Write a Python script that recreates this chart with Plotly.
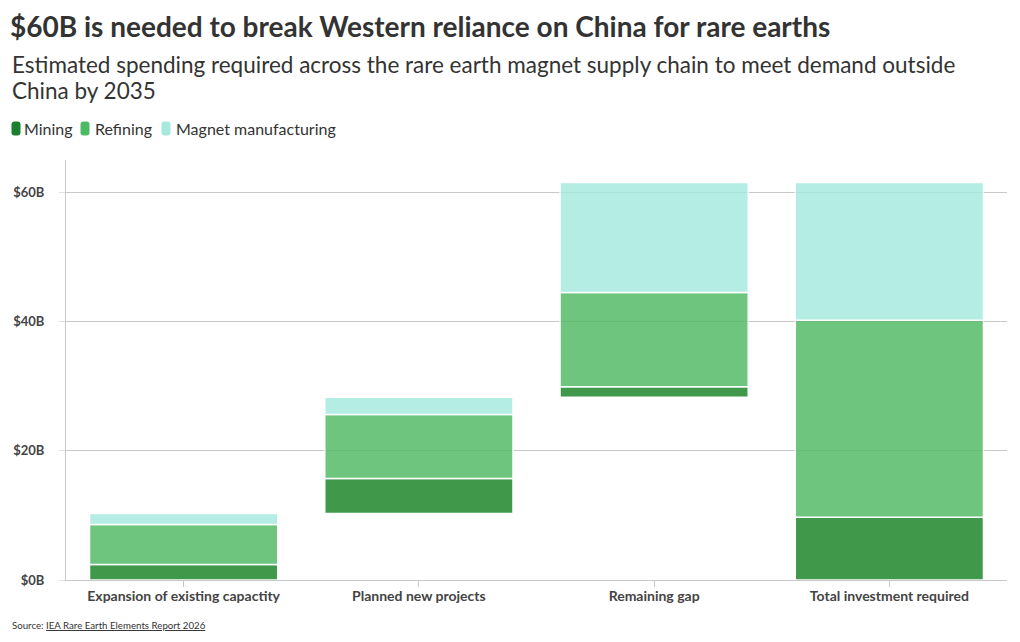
import plotly.graph_objects as go

# ---- data (US$ billions) ----
categories = ["Expansion of existing capactity", "Planned new projects",
              "Remaining gap", "Total investment required"]
series_names = ["Mining", "Refining", "Magnet manufacturing"]
# stage contributions (first three categories)
mining_stage = [2.4, 5.4, 1.6]
refining_stage = [6.2, 9.9, 14.6]
magnet_stage = [1.7, 2.7, 17.0]
# total bar
mining_total = 9.7
refining_total = 30.5
magnet_total = 21.3
y_ticks = [0, 20, 40, 60]
y_tick_labels = ["$0B", "$20B", "$40B", "$60B"]

legend_colors = ["#1a7f2e", "#4cba64", "#a6e9df"]
bar_colors = ["#1f882c", "#55bb68", "#a6eadf"]

FONT = "Lato"
W, H = 1020, 642
L, R, T, B = 66, 13, 160, 62
PW, PH = W - L - R, H - T - B


def px(p):
    return (p - L) / PW


def py(p):
    return (H - B - p) / PH


# build values and bases
mining = mining_stage + [mining_total]
refining = refining_stage + [refining_total]
magnet = magnet_stage + [magnet_total]
starts = []
acc = 0.0
for i in range(3):
    starts.append(acc)
    acc += mining_stage[i] + refining_stage[i] + magnet_stage[i]
starts.append(0.0)

base_m = starts
base_r = [s + m for s, m in zip(starts, mining)]
base_g = [s + m + r for s, m, r in zip(starts, mining, refining)]

fig = go.Figure()
for name, vals, base, col in zip(series_names, [mining, refining, magnet],
                                 [base_m, base_r, base_g], bar_colors):
    fig.add_trace(go.Bar(
        x=categories, y=vals, base=base, name=name,
        marker=dict(color=col, line=dict(color="white", width=1.5)),
        opacity=0.85, showlegend=False,
    ))

# custom legend
shapes = []
annotations = []
leg_swatch_x = [16, 85, 166]
leg_text_x = [22, 93, 174]
leg_y = 128.5
r = 3
hw, hh = 4.5, 7
path = (f"M {-hw + r},{-hh} L {hw - r},{-hh} Q {hw},{-hh} {hw},{-hh + r} "
        f"L {hw},{hh - r} Q {hw},{hh} {hw - r},{hh} L {-hw + r},{hh} "
        f"Q {-hw},{hh} {-hw},{hh - r} L {-hw},{-hh + r} Q {-hw},{-hh} {-hw + r},{-hh} Z")
for name, col, sx, tx in zip(series_names, legend_colors, leg_swatch_x, leg_text_x):
    shapes.append(dict(type="path", xref="paper", yref="paper",
                       xsizemode="pixel", ysizemode="pixel",
                       xanchor=px(sx), yanchor=py(leg_y), path=path,
                       fillcolor=col, line=dict(width=0)))
    annotations.append(dict(text=name, xref="paper", yref="paper",
                            x=px(tx), y=py(leg_y - 0.5), xanchor="left", yanchor="middle",
                            showarrow=False, font=dict(family=FONT, size=16, color="#333")))

# subtitle (two lines)
sub_lines = ["Estimated spending required across the rare earth magnet supply chain to meet demand outside",
             "China by 2035"]
for line, yy in zip(sub_lines, [65, 91]):
    annotations.append(dict(
        text=line, xref="paper", yref="paper", x=px(10), y=py(yy),
        xanchor="left", yanchor="middle", align="left", showarrow=False,
        font=dict(family=FONT, size=22.5, color="#333")))
# source
annotations.append(dict(
    text='Source: <span style="text-decoration:underline">IEA Rare Earth Elements Report 2026</span>',
    xref="paper", yref="paper", x=px(10), y=py(625), xanchor="left", yanchor="middle",
    showarrow=False, font=dict(family=FONT, size=9.7, color="#333")))

fig.update_layout(
    width=W, height=H,
    margin=dict(l=L, r=R, t=T, b=B),
    paper_bgcolor="white", plot_bgcolor="white",
    barmode="overlay", bargap=0.2,
    title=dict(text="<b>$60B is needed to break Western reliance on China for rare earths</b>",
               x=10 / W, xanchor="left", y=1 - 27 / H, yanchor="middle",
               font=dict(family=FONT, size=28, color="#333")),
    shapes=shapes, annotations=annotations,
    xaxis=dict(showline=True, linecolor="#c8c8c8", linewidth=1,
               ticks="outside", ticklen=6, tickcolor="#c8c8c8",
               ticklabelstandoff=-3,
               tickfont=dict(family=FONT, size=14, color="#444", weight="bold"),
               showgrid=False, fixedrange=True),
    yaxis=dict(range=[0, 65], tickvals=y_ticks, ticktext=y_tick_labels,
               showline=True, linecolor="#c8c8c8", linewidth=1,
               showgrid=True, gridcolor="#c8c8c8", gridwidth=1,
               ticks="outside", ticklen=6, tickcolor="#e0e0e0",
               ticklabelstandoff=12, zeroline=False,
               tickfont=dict(family=FONT, size=13, color="#444", weight="bold"),
               fixedrange=True),
    font=dict(family=FONT, color="#333"),
)

fig.write_html("out.html")
